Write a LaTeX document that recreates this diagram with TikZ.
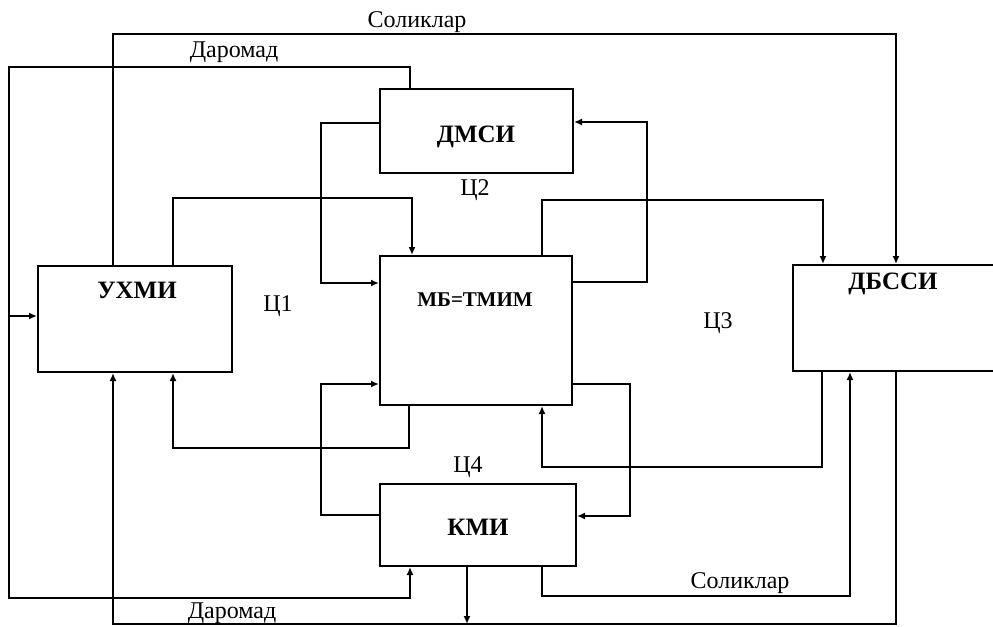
\documentclass[tikz,border=0pt]{standalone}
\usepackage{fontspec}
\setmainfont{Liberation Serif}
\usepackage{tikz}
\usetikzlibrary{arrows.meta}
\tikzset{
  blok/.style={draw, rectangle, line width=1pt, inner sep=0pt},
  nom/.style={font=\fontsize{12.5}{14}\selectfont\bfseries, inner sep=0pt},
  matn/.style={font=\fontsize{12}{14}\selectfont, inner sep=0pt},
  oqim/.style={draw, line width=0.9pt, -{Latex[length=4pt, width=3.5pt]}},
}

\begin{document}
\begin{tikzpicture}[x=0.5pt, y=-0.5pt]
  \useasboundingbox (0,0) rectangle (993,627);
  \clip (0,0) rectangle (993,627);

  % bloklar
  \node[blok, minimum width=97pt, minimum height=53pt]   (uxmi)  at (135,319)   {};
  \node[blok, minimum width=96.5pt, minimum height=42pt] (dmsi)  at (476.5,131) {};
  \node[blok, minimum width=96pt, minimum height=74.5pt] (mb)    at (476,330.5) {};
  \node[blok, minimum width=98pt, minimum height=41pt]   (kmi)   at (478,525)   {};
  \node[blok, minimum width=110pt, minimum height=53pt]  (dbssi) at (903,318)   {};

  \node[nom] (uxmit)  at (137,290) {УХМИ};
  \node[nom] (dmsit)  at (476,137) {ДМСИ};
  \node[nom, font=\fontsize{10.5}{12}\selectfont\bfseries] (mbt) at (475,300) {МБ=ТМИМ};
  \node[nom] (kmit)   at (478,527) {КМИ};
  \node[nom] (dbssit) at (893,284) {ДБССИ};

  % yozuvlar
  \node[matn] (sol1) at (417,22)  {Соликлар};
  \node[matn] (dar1) at (234,52)  {Даромад};
  \node[matn] (ts1)  at (278,306) {Ц1};
  \node[matn] (ts2)  at (475,190) {Ц2};
  \node[matn] (ts3)  at (718,323) {Ц3};
  \node[matn] (ts4)  at (468,467) {Ц4};
  \node[matn] (sol2) at (740,583) {Соликлар};
  \node[matn] (dar2) at (232,613) {Даромад};

  % Соликлар (yuqori)
  \draw[oqim] (uxmi.north -| 113,0) -- (113,34) -- (896,34) -- (dbssi.north -| 896,0);

  % Даромад
  \coordinate (tarmoq) at (9,316);
  \draw[oqim] (dmsi.north -| 410,0) -- (410,67) -- (9,67) -- (9,598) -- (410,598) -- (kmi.south -| 410,0);
  \draw[oqim] (tarmoq) -- (uxmi.west |- tarmoq);

  % Ц1
  \draw[oqim] (uxmi.north -| 173,0) -- (173,198) -- (412,198) -- (mb.north -| 412,0);
  \draw[oqim] (mb.south -| 409,0) -- (409,448) -- (173,448) -- (uxmi.south -| 173,0);

  % Ц2
  \draw[oqim] (dmsi.west |- 0,123) -- (321,123) -- (321,283) -- (mb.west |- 0,283);
  \draw[oqim] (mb.east |- 0,282) -- (647,282) -- (647,122) -- (dmsi.east |- 0,122);

  % Ц3
  \draw[oqim] (mb.north -| 542,0) -- (542,200) -- (823,200) -- (dbssi.north -| 823,0);
  \draw[oqim] (dbssi.south -| 822,0) -- (822,467) -- (542,467) -- (mb.south -| 542,0);

  % Ц4
  \draw[oqim] (kmi.west |- 0,515) -- (321,515) -- (321,384) -- (mb.west |- 0,384);
  \draw[oqim] (mb.east |- 0,384) -- (630,384) -- (630,516) -- (kmi.east |- 0,516);

  % Соликлар (pastki)
  \draw[oqim] (kmi.south -| 542,0) -- (542,596) -- (850,596) -- (dbssi.south -| 850,0);

  % pastki chiziq
  \coordinate (past) at (467,624);
  \draw[oqim] (dbssi.south -| 896,0) -- (896,624) -- (113,624) -- (uxmi.south -| 113,0);
  \draw[oqim] (kmi.south -| 467,0) -- (past);
\end{tikzpicture}
\end{document}
